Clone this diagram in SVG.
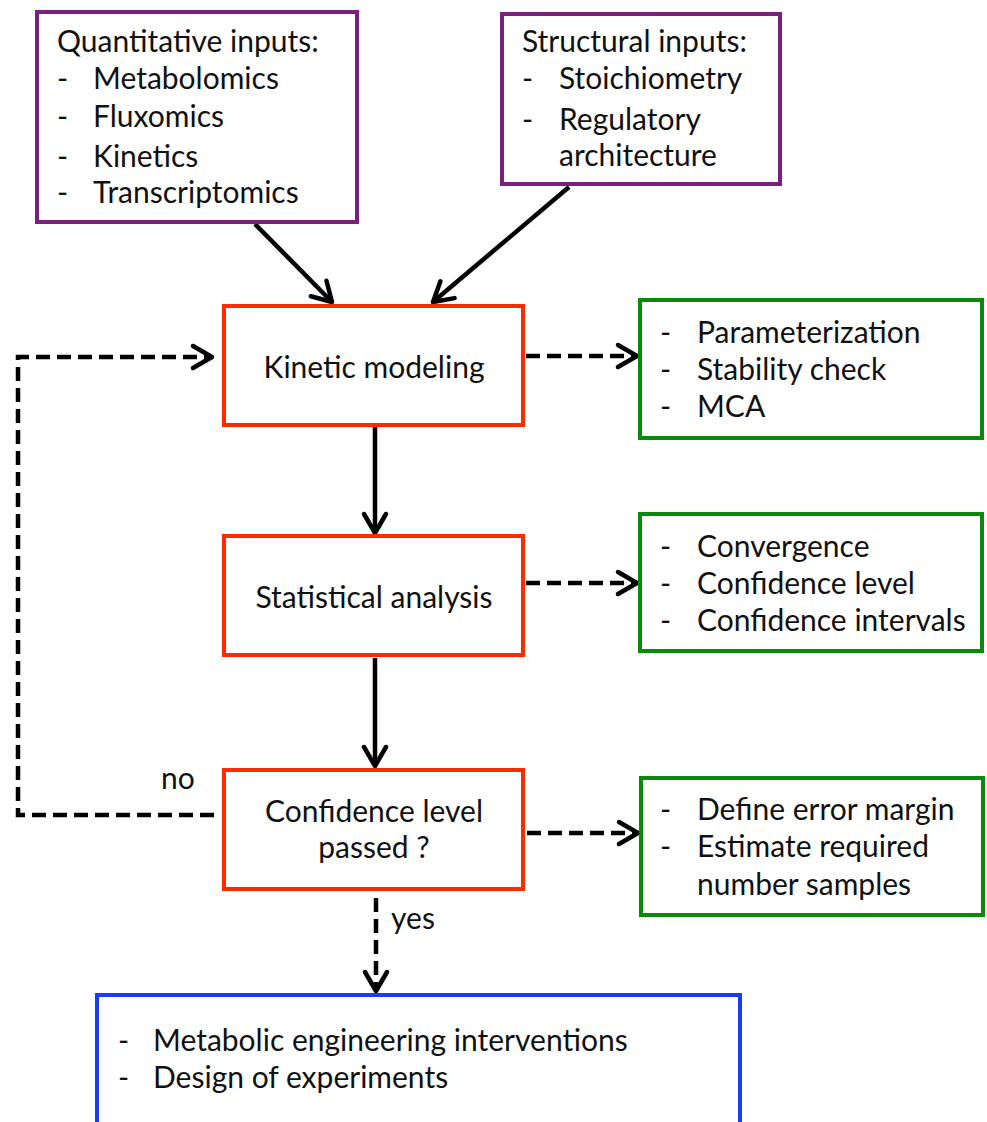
<svg xmlns="http://www.w3.org/2000/svg" width="987" height="1122" viewBox="0 0 987 1122">
<defs>
<style>
.t{font-family:Lato,"Open Sans","Liberation Sans",sans-serif;font-size:30px;fill:#111}
.c{text-anchor:middle}
.box{fill:#fff;stroke-width:4}
.pur{stroke:#7B1F7F}
.red{stroke:#FF2A00}
.grn{stroke:#0A8A0A}
.blu{stroke:#1A3CF0}
.ln{fill:none;stroke:#000;stroke-width:4.5}
.dash{stroke-dasharray:14 7}
</style>
<marker id="ah" markerUnits="userSpaceOnUse" markerWidth="30" markerHeight="30" viewBox="-24 -15 28 30" refX="0" refY="0" orient="auto">
<path d="M-19,-11 L0,0 L-19,11" fill="none" stroke="#000" stroke-width="4.5" stroke-linecap="round" stroke-linejoin="round"/>
</marker>
</defs>
<rect width="987" height="1122" fill="#fff"/>

<g id="connectors">
<line class="ln" x1="255" y1="224" x2="332" y2="302" marker-end="url(#ah)"/>
<line class="ln" x1="569" y1="187" x2="433" y2="302" marker-end="url(#ah)"/>
<line class="ln" x1="375" y1="427" x2="375" y2="533" marker-end="url(#ah)"/>
<line class="ln" x1="375" y1="658" x2="375" y2="766" marker-end="url(#ah)"/>
<line class="ln dash" x1="526" y1="356" x2="637" y2="356" marker-end="url(#ah)"/>
<line class="ln dash" x1="526" y1="583" x2="637" y2="583" marker-end="url(#ah)"/>
<line class="ln dash" x1="527" y1="833" x2="638" y2="833" marker-end="url(#ah)"/>
<path class="ln dash" d="M214,815 L18,815 L18,357 L212,357" marker-end="url(#ah)"/>
<line class="ln dash" x1="376" y1="898" x2="376" y2="991" marker-end="url(#ah)"/>
<text class="t" x="161" y="789">no</text>
<text class="t" x="391" y="929">yes</text>
</g>

<g id="quantitative">
<rect class="box pur" x="37" y="12" width="320" height="210"/>
<text class="t" x="57" y="52">Quantitative inputs:</text>
<text class="t" x="57" y="89">-</text><text class="t" x="93" y="89">Metabolomics</text>
<text class="t" x="57" y="127">-</text><text class="t" x="93" y="127">Fluxomics</text>
<text class="t" x="57" y="167">-</text><text class="t" x="93" y="167">Kinetics</text>
<text class="t" x="57" y="203">-</text><text class="t" x="93" y="203">Transcriptomics</text>
</g>

<g id="structural">
<rect class="box pur" x="502" y="14" width="278" height="170"/>
<text class="t" x="522" y="52">Structural inputs:</text>
<text class="t" x="522" y="89">-</text><text class="t" x="559" y="89">Stoichiometry</text>
<text class="t" x="522" y="130">-</text><text class="t" x="559" y="130">Regulatory</text>
<text class="t" x="559" y="166">architecture</text>
</g>

<g id="kinetic">
<rect class="box red" x="224" y="306" width="299" height="119"/>
<text class="t c" x="374" y="378">Kinetic modeling</text>
</g>

<g id="statistical">
<rect class="box red" x="224" y="536" width="299" height="119"/>
<text class="t c" x="374" y="608">Statistical analysis</text>
</g>

<g id="confidence">
<rect class="box red" x="224" y="770" width="299" height="119"/>
<text class="t c" x="374" y="822">Confidence level</text>
<text class="t c" x="374" y="858">passed ?</text>
</g>

<g id="green1">
<rect class="box grn" x="640" y="300" width="342" height="138"/>
<text class="t" x="660" y="343">-</text><text class="t" x="697" y="343">Parameterization</text>
<text class="t" x="660" y="380">-</text><text class="t" x="697" y="380">Stability check</text>
<text class="t" x="660" y="417">-</text><text class="t" x="697" y="417">MCA</text>
</g>

<g id="green2">
<rect class="box grn" x="640" y="514" width="342" height="137"/>
<text class="t" x="660" y="557">-</text><text class="t" x="697" y="557">Convergence</text>
<text class="t" x="660" y="594">-</text><text class="t" x="697" y="594">Confidence level</text>
<text class="t" x="660" y="631">-</text><text class="t" x="697" y="631">Confidence intervals</text>
</g>

<g id="green3">
<rect class="box grn" x="641" y="778" width="342" height="137"/>
<text class="t" x="660" y="820">-</text><text class="t" x="697" y="820">Define error margin</text>
<text class="t" x="660" y="857">-</text><text class="t" x="697" y="857">Estimate required</text>
<text class="t" x="697" y="895">number samples</text>
</g>

<g id="outcome">
<rect class="box blu" x="97" y="995" width="643" height="140"/>
<text class="t" x="118" y="1051">-</text><text class="t" x="153" y="1051">Metabolic engineering interventions</text>
<text class="t" x="118" y="1088">-</text><text class="t" x="153" y="1088">Design of experiments</text>
</g>
</svg>
